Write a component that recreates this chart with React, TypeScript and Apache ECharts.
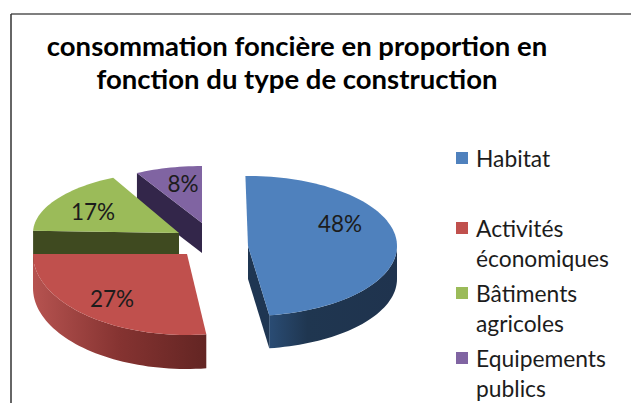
import React, { useEffect, useRef } from "react";
import * as echarts from "echarts";

const titleLines = ["consommation foncière en proportion en", "fonction du type de construction"];
const categories = ["Habitat", "Activités\néconomiques", "Bâtiments\nagricoles", "Equipements\npublics"];
const values = [48, 27, 17, 8];
const colors = ["#4f81bd", "#c0504d", "#9bbb59", "#8064a2"];

const FONT = "Lato, Carlito, sans-serif";
const total = values.reduce((a, b) => a + b, 0);

// Exploded-pie projection of each slice: apex, radii, wall depth, rotation, label point
const geom = [
  { cx: 248, cy: 246, rx: 149, ry: 70, d: 33, rot: -1, lx: 340, ly: 223 },
  { cx: 187, cy: 254, rx: 154, ry: 81, d: 34, rot: 0, lx: 112, ly: 298 },
  { cx: 179, cy: 233, rx: 146, ry: 62, d: 33, rot: 2, lx: 93, ly: 211 },
  { cx: 202, cy: 223, rx: 135, ry: 57, d: 30, rot: 0, lx: 183, ly: 183 },
];
const cutFaces = ["#1f3652", null, "#3f4a20", "#33264a"];
const walls: any[] = [
  [[0, "#2a4c74"], [0.3, "#1f3650"], [1, "#1f334e"]],
  [[0, "#b65350"], [0.5, "#853331"], [1, "#632523"]],
  null,
  null,
];
const legendY = [158, 228, 293, 358];
const LEGEND_LINE = 30;

function renderSlice(params: any, api: any) {
  const idx = api.value(1) as number;
  const v = api.value(0) as number;
  const g = geom[idx];
  const before = values.slice(0, idx).reduce((a, b) => a + b, 0);
  const a0 = (before / total) * 360 + g.rot;
  const a1 = ((before + v) / total) * 360 + g.rot;
  const pt = (deg: number, dy = 0): [number, number] => {
    const r = (deg * Math.PI) / 180;
    return [g.cx + g.rx * Math.sin(r), g.cy - g.ry * Math.cos(r) + dy];
  };
  const arc = (from: number, to: number, dy = 0) => {
    const out: [number, number][] = [];
    const n = Math.max(2, Math.ceil(Math.abs(to - from) / 2));
    for (let i = 0; i <= n; i++) out.push(pt(from + ((to - from) * i) / n, dy));
    return out;
  };
  const toPath = (pts: [number, number][]) =>
    "M" + pts.map((p) => p[0].toFixed(2) + " " + p[1].toFixed(2)).join("L") + "Z";
  const children: any[] = [];
  const s0 = Math.max(a0, 90);
  const s1 = Math.min(a1, 270);
  if (walls[idx] && s1 > s0) {
    const wallPts = [...arc(s0, s1), ...arc(s1, s0, g.d)];
    children.push({
      type: "path",
      shape: { pathData: toPath(wallPts) },
      style: {
        fill: new echarts.graphic.LinearGradient(
          0, 0, 1, 0,
          walls[idx].map((s: any) => ({ offset: s[0], color: s[1] }))
        ),
      },
    });
  }
  if (cutFaces[idx]) {
    const edge = idx === 0 ? a1 : a0;
    const e = pt(edge);
    const e2 = pt(edge, g.d);
    children.push({
      type: "path",
      shape: {
        pathData: toPath([[g.cx, g.cy], e, e2, [g.cx, g.cy + g.d]]),
      },
      style: { fill: cutFaces[idx] as string },
    });
  }
  children.push({
    type: "path",
    shape: { pathData: toPath([[g.cx, g.cy], ...arc(a0, a1)]) },
    style: { fill: colors[idx] },
  });
  children.push({
    type: "text",
    style: {
      text: Math.round((v / total) * 100) + "%",
      x: g.lx,
      y: g.ly,
      fill: "#1c1c1c",
      font: "22.5px " + FONT,
      textAlign: "center",
      textVerticalAlign: "middle",
    },
  });
  return { type: "group", children };
}

export default function App() {
  const ref = useRef<HTMLDivElement>(null);
  useEffect(() => {
    document.body.style.margin = "0";
    document.body.style.background = "#fff";
    const chart = echarts.init(ref.current!, null, { renderer: "svg" });
    const legendGraphics: any[] = [];
    categories.forEach((c, i) => {
      legendGraphics.push({
        type: "rect",
        shape: { x: 456, y: legendY[i] - 6, width: 12, height: 12 },
        style: { fill: colors[i] },
      });
      c.split("\n").forEach((line, j) => {
        legendGraphics.push({
          type: "text",
          style: {
            text: line,
            x: 476,
            y: legendY[i] + j * LEGEND_LINE,
            fill: "#1c1c1c",
            font: "22.8px " + FONT,
            textAlign: "left",
            textVerticalAlign: "middle",
          },
        });
      });
    });
    chart.setOption({
      animation: false,
      backgroundColor: "#fff",
      title: {
        text: titleLines.join("\n"),
        left: 292,
        top: 24,
        textAlign: "center",
        textStyle: { fontFamily: FONT, fontWeight: "bold", fontSize: 27.5, lineHeight: 33, color: "#000" },
      },
      graphic: [
        { type: "line", shape: { x1: 11, y1: 14, x2: 631, y2: 14 }, style: { stroke: "#555", lineWidth: 1.5 } },
        { type: "line", shape: { x1: 11, y1: 14, x2: 11, y2: 403 }, style: { stroke: "#333", lineWidth: 1.5 } },
        ...legendGraphics,
      ],
      series: [
        {
          type: "custom",
          coordinateSystem: "none",
          renderItem: renderSlice,
          silent: true,
          data: values.map((v, i) => [v, i]).reverse(),
        },
      ],
    });
    return () => chart.dispose();
  }, []);
  return <div ref={ref} style={{ width: 631, height: 403 }} />;
}
